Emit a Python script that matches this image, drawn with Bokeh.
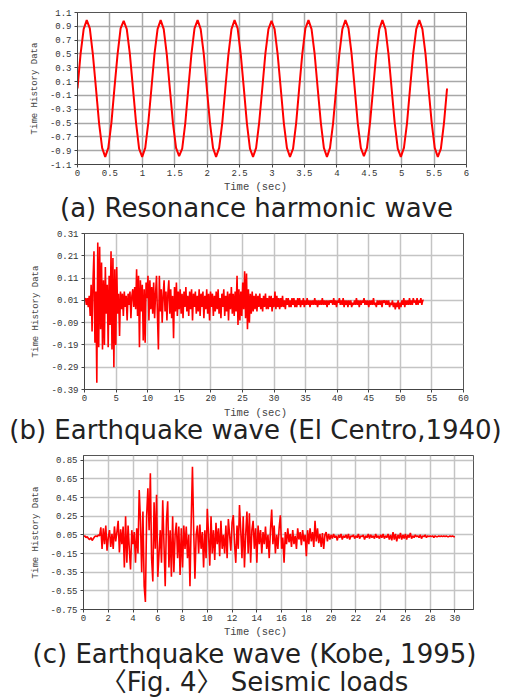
from bokeh.plotting import figure
from bokeh.layouts import column, row
from bokeh.models import FixedTicker, CustomJSTickFormatter, Range1d, Spacer
from bokeh.core.properties import value
from bokeh.embed import file_html
from bokeh.resources import INLINE

# ---------------- data ----------------
# (a) resonance harmonic wave, sampled every DT_A seconds
DT_A = 0.0475
wave_a = [
    0.00, 0.50, 0.86, 0.99, 0.87, 0.49, 0.00, -0.50, -0.86, -0.99, -0.86, -0.50,
    0.01, 0.49, 0.87, 0.98, 0.86, 0.50, 0.01, -0.49, -0.87, -0.99, -0.86, -0.49,
    0.00, 0.50, 0.86, 0.99, 0.86, 0.49, -0.01, -0.50, -0.86, -0.98, -0.87, -0.50,
    0.01, 0.50, 0.87, 0.99, 0.86, 0.50, 0.00, -0.49, -0.86, -0.99, -0.86, -0.50,
    0.00, 0.49, 0.86, 0.99, 0.87, 0.50, 0.01, -0.50, -0.87, -0.99, -0.86, -0.49,
    0.00, 0.50, 0.86, 0.98, 0.86, 0.49, 0.00, -0.50, -0.86, -0.99, -0.87, -0.50,
    0.01, 0.50, 0.87, 0.99, 0.86, 0.50, 0.00, -0.49, -0.86, -0.99, -0.86, -0.50,
    0.00, 0.49, 0.86, 0.99, 0.87, 0.50, 0.01, -0.50, -0.86, -0.98, -0.86, -0.49,
    0.00, 0.50, 0.86, 0.99, 0.86, 0.49, 0.00, -0.50, -0.87, -0.99, -0.86, -0.50,
    0.01, 0.50, 0.86, 0.99, 0.86, 0.50, 0.00, -0.49, -0.86, -0.99, -0.87, -0.50,
    0.00,
]

# (b) El Centro 1940, sampled every DT_B seconds
DT_B = 0.15
wave_b = [
    0.01, 0.02, -0.01, 0.02, -0.02, 0.03, -0.06, 0.08, -0.13, 0.10, 0.23, -0.18, 0.05, -0.36, 0.27, -0.20, 0.25, -0.12, 0.18, -0.21,
    0.10, -0.19, 0.16, -0.05, 0.08, -0.20, 0.12, -0.10, 0.23, -0.21, 0.20, -0.29, 0.15, -0.19, 0.16, -0.05, 0.04, -0.15, 0.05, -0.03,
    0.04, -0.06, 0.05, -0.02, 0.03, -0.08, 0.04, -0.01, 0.05, -0.07, 0.03, 0.06, -0.02, 0.07, -0.03, 0.15, -0.06, 0.12, -0.20, 0.10,
    -0.04, 0.08, -0.17, 0.06, -0.18, 0.09, 0.02, 0.12, -0.08, 0.10, -0.03, 0.07, -0.05, 0.09, -0.07, 0.04, 0.12, -0.06, -0.21, 0.12,
    -0.04, 0.06, -0.09, 0.03, 0.10, -0.04, 0.05, -0.08, 0.04, 0.10, -0.05, 0.06, -0.07, 0.03, -0.16, 0.07, -0.04, 0.09, -0.06, 0.05,
    -0.03, 0.06, -0.05, 0.04, -0.07, 0.05, -0.02, 0.07, -0.04, 0.03, -0.06, 0.05, -0.03, 0.06, -0.08, 0.04, -0.02, 0.05, -0.05, 0.03,
    -0.04, 0.06, -0.06, 0.04, -0.02, 0.05, -0.07, 0.03, -0.03, 0.06, -0.05, 0.04, -0.08, 0.05, -0.02, 0.04, -0.06, 0.03, -0.04, 0.05,
    -0.03, 0.06, -0.05, 0.02, -0.07, 0.04, -0.02, 0.06, -0.06, 0.03, -0.04, 0.05, -0.08, 0.04, -0.03, 0.07, -0.05, 0.04, -0.06, 0.05,
    -0.04, 0.12, -0.10, 0.06, -0.08, 0.05, -0.06, 0.09, -0.03, 0.14, -0.07, 0.13, -0.12, 0.06, -0.09, 0.04, -0.05, 0.05, -0.04, 0.03,
    -0.03, 0.04, -0.04, 0.03, -0.02, 0.04, -0.03, 0.02, -0.04, 0.03, -0.02, 0.04, -0.03, 0.02, -0.03, 0.03, -0.02, 0.03, -0.04, 0.02,
    -0.02, 0.05, -0.03, 0.03, -0.02, 0.02, -0.03, 0.02, -0.02, 0.03, -0.02, 0.01, -0.03, 0.02, -0.01, 0.02, -0.02, 0.01, -0.02, 0.02,
    -0.01, 0.02, -0.02, 0.01, -0.02, 0.02, -0.01, 0.02, -0.02, 0.01, -0.01, 0.02, -0.02, 0.01, -0.01, 0.02, -0.01, 0.01, -0.02, 0.01,
    -0.01, 0.01, -0.01, 0.02, -0.01, 0.01, -0.02, 0.01, -0.01, 0.01, -0.01, 0.02, -0.01, 0.01, -0.01, 0.01, -0.02, 0.01, -0.01, 0.01,
    0.00, 0.01, -0.01, 0.02, -0.01, 0.01, -0.02, 0.01, 0.00, 0.02, -0.01, 0.01, -0.01, 0.02, -0.02, 0.01, -0.01, 0.01, -0.02, 0.01,
    -0.01, 0.01, -0.02, 0.00, -0.01, 0.01, -0.01, 0.02, -0.01, 0.01, -0.02, 0.01, -0.01, 0.01, 0.00, 0.02, -0.01, 0.01, -0.01, 0.01,
    -0.02, 0.01, -0.01, 0.01, -0.01, 0.02, -0.01, 0.00, -0.02, 0.01, -0.01, 0.01, -0.01, 0.01, -0.02, 0.01, 0.00, 0.01, -0.01, 0.01,
    -0.01, 0.01, -0.02, 0.00, -0.01, 0.01, -0.02, 0.00, -0.03, 0.00, -0.02, 0.01, -0.03, 0.00, -0.02, 0.01, -0.01, 0.02, -0.02, 0.01,
    -0.01, 0.01, -0.01, 0.02, -0.01, 0.01, -0.01, 0.02, 0.00, 0.01, -0.01, 0.02, -0.01, 0.01, 0.00, 0.02, -0.01, 0.01, 0.01,
]

# (c) Kobe 1995, sampled every DT_C seconds
DT_C = 0.1
wave_c = [
    0.03, 0.04, 0.02, 0.03, 0.01, 0.00, 0.02, -0.01, 0.01, 0.03, 0.04, 0.03, 0.05, 0.04, 0.13, -0.10, 0.12, -0.05, 0.15, -0.12,
    0.02, 0.10, -0.08, 0.06, -0.10, 0.14, -0.02, 0.08, 0.20, -0.14, 0.11, -0.05, 0.14, -0.30, 0.25, -0.25, 0.15, -0.10, -0.32, 0.10,
    -0.05, 0.08, -0.25, 0.12, -0.15, 0.53, 0.20, -0.35, 0.30, -0.50, -0.67, 0.25, 0.55, 0.10, 0.71, -0.20, -0.45, 0.40, -0.10, 0.48,
    -0.40, -0.15, 0.10, -0.25, 0.42, -0.05, -0.50, 0.20, 0.41, -0.30, 0.10, -0.40, 0.25, -0.35, 0.05, 0.18, -0.20, 0.14, -0.38, 0.12,
    -0.30, 0.15, -0.10, 0.14, -0.20, 0.05, -0.50, 0.20, 0.78, 0.10, -0.42, 0.05, 0.15, -0.15, 0.16, -0.10, 0.08, -0.30, 0.10, -0.20,
    0.33, 0.05, -0.28, 0.25, -0.15, 0.10, -0.22, 0.18, -0.05, 0.12, -0.18, 0.20, -0.10, 0.05, -0.15, 0.15, -0.20, 0.22, 0.05, -0.12,
    0.18, 0.26, -0.05, -0.25, 0.15, -0.10, 0.37, 0.10, -0.20, 0.25, -0.30, 0.05, 0.30, -0.15, 0.28, -0.25, 0.10, 0.20, -0.10, 0.12,
    -0.25, 0.15, -0.05, 0.10, -0.15, 0.08, -0.05, 0.14, -0.10, 0.05, -0.20, 0.10, 0.32, -0.05, 0.15, -0.15, 0.05, -0.10, 0.12, 0.26,
    -0.10, 0.02, -0.25, 0.08, -0.05, 0.12, -0.03, 0.06, -0.08, 0.10, -0.05, 0.04, -0.10, 0.12, 0.00, 0.08, -0.06, 0.10, -0.02, 0.05,
    -0.18, 0.10, -0.05, 0.12, -0.02, 0.08, -0.08, 0.20, -0.02, 0.12, -0.04, 0.06, -0.08, 0.07, -0.10, 0.05, 0.08, -0.02, 0.06, 0.00,
    0.05, 0.01, 0.06, 0.02, 0.04, -0.01, 0.05, 0.02, 0.06, 0.00, 0.04, 0.02, 0.05, 0.01, 0.06, 0.00, 0.04, 0.03, 0.05, 0.01,
    0.04, 0.02, 0.06, 0.01, 0.04, 0.03, 0.05, 0.00, 0.04, 0.02, 0.06, 0.01, 0.05, 0.02, 0.04, 0.01, 0.06, 0.02, 0.04, 0.01,
    0.05, 0.02, 0.06, 0.01, 0.04, 0.02, 0.06, 0.00, 0.05, -0.01, 0.08, 0.00, 0.06, -0.02, 0.05, 0.01, 0.07, 0.00, 0.05, 0.01,
    0.06, 0.00, 0.05, 0.02, 0.07, 0.01, 0.04, 0.02, 0.05, 0.03, 0.04, 0.02, 0.05, 0.01, 0.04, 0.03, 0.05, 0.02, 0.04, 0.03,
    0.04, 0.03, 0.04, 0.02, 0.04, 0.03, 0.03, 0.04, 0.03, 0.04, 0.03, 0.04, 0.03, 0.04, 0.03, 0.03, 0.04, 0.03, 0.04, 0.03,
    0.03,
]

# tick values
xticks_a = [0, 0.5, 1, 1.5, 2, 2.5, 3, 3.5, 4, 4.5, 5, 5.5, 6]
yticks_a = [-1.1, -0.9, -0.7, -0.5, -0.3, -0.1, 0.1, 0.3, 0.5, 0.7, 0.9, 1.1]
xticks_b = [0, 5, 10, 15, 20, 25, 30, 35, 40, 45, 50, 55, 60]
yticks_b = [-0.39, -0.29, -0.19, -0.09, 0.01, 0.11, 0.21, 0.31]
xticks_c = [0, 2, 4, 6, 8, 10, 12, 14, 16, 18, 20, 22, 24, 26, 28, 30]
yticks_c = [-0.75, -0.55, -0.35, -0.15, 0.05, 0.25, 0.45, 0.65, 0.85]

caption_a = ["(a) Resonance harmonic wave"]
caption_b = ["(b) Earthquake wave (El Centro,1940)"]
caption_c = ["(c) Earthquake wave (Kobe, 1995)", "\u3008Fig. 4\u3009 Seismic loads"]

x_label = "Time (sec)"
y_label = "Time History Data"

MONO = "Liberation Mono"
CAP_FONT = "DejaVu Sans, Noto Sans CJK KR"
PAGE_W = 506
BORDER_L = 70
AXIS_BOTTOM = 16


def chart(values, dt, xr, yr, xticks, yticks, shift, fw, top, fh,
          y_standoff, grid_color, line_w):
    right = PAGE_W - shift - BORDER_L - fw
    p = figure(frame_width=fw, frame_height=fh,
               min_border_left=BORDER_L, min_border_right=right,
               min_border_top=top, min_border_bottom=AXIS_BOTTOM,
               x_range=Range1d(*xr), y_range=Range1d(*yr),
               output_backend="svg", toolbar_location=None,
               background_fill_color="white", border_fill_color="white")
    t = [i * dt for i in range(len(values))]
    p.line(t, values, line_color="#ff0000", line_width=line_w)

    p.xaxis.ticker = FixedTicker(ticks=xticks)
    p.yaxis.ticker = FixedTicker(ticks=yticks)
    p.xaxis.formatter = CustomJSTickFormatter(code="return String(tick);")
    p.yaxis.formatter = CustomJSTickFormatter(code="return String(tick);")

    for ax in (p.xaxis[0], p.yaxis[0]):
        ax.major_label_text_font = MONO
        ax.major_label_text_font_size = "9px"
        ax.major_label_text_color = "#333333"
        ax.axis_label_text_font = MONO
        ax.axis_label_text_font_style = "normal"
        ax.axis_label_text_color = "#444444"
        ax.axis_line_color = "#444444"
        ax.major_tick_line_color = "#444444"
        ax.major_tick_out = 3
        ax.major_tick_in = 0
        ax.minor_tick_line_color = None
        ax.major_label_standoff = 3

    p.xaxis.major_label_standoff = 2
    p.yaxis.axis_label = y_label
    p.yaxis.axis_label_text_font_size = "9px"
    p.yaxis.axis_label_standoff = y_standoff

    p.xgrid.grid_line_color = grid_color
    p.ygrid.grid_line_color = grid_color
    p.xgrid.grid_line_width = 1.5
    p.ygrid.grid_line_width = 1.5
    p.outline_line_color = "#555555"
    p.outline_line_width = 1
    return row(Spacer(width=shift, height=10), p)


def caption_strip(height, label_y, captions, cap_ys, cap_x):
    """x-axis title + caption lines, laid out in pixel units of the strip"""
    p = figure(width=PAGE_W, height=height,
               x_range=Range1d(0, PAGE_W), y_range=Range1d(height, 0),
               min_border=0, output_backend="svg", toolbar_location=None,
               background_fill_color="white", border_fill_color="white")
    p.axis.visible = False
    p.grid.visible = False
    p.outline_line_color = None
    p.text(x=[255], y=[label_y], text=[x_label],
           text_font=value(MONO), text_font_size="10.5px",
           text_color="#444444", text_align="center", text_baseline="middle")
    p.text(x=[cap_x] * len(captions), y=cap_ys, text=captions,
           text_font=value(CAP_FONT), text_font_size="26px",
           text_color="#222222", text_align="center", text_baseline="middle")
    return p


ca = chart(wave_a, DT_A, (0, 6), (-1.1, 1.1), xticks_a, yticks_a,
           shift=7, fw=389, top=12, fh=152, y_standoff=7,
           grid_color="#a8a8a8", line_w=2)
sa = caption_strip(44, 6, caption_a, [27], 256)
cb = chart(wave_b, DT_B, (0, 60), (-0.39, 0.31), xticks_b, yticks_b,
           shift=14, fw=379, top=9, fh=156, y_standoff=7,
           grid_color="#c4c4c4", line_w=1.6)
sb = caption_strip(42, 7, caption_b, [24], 255)
cc = chart(wave_c, DT_C, (0, 31.5), (-0.75, 0.9), xticks_c, yticks_c,
           shift=13, fw=390, top=8, fh=154, y_standoff=6,
           grid_color="#c4c4c4", line_w=1.6)
sc = caption_strip(74, 6, caption_c, [28, 56], 254)

layout = column(ca, sa, cb, sb, cc, sc, spacing=0)
open("out.html", "w").write(file_html(layout, INLINE))
